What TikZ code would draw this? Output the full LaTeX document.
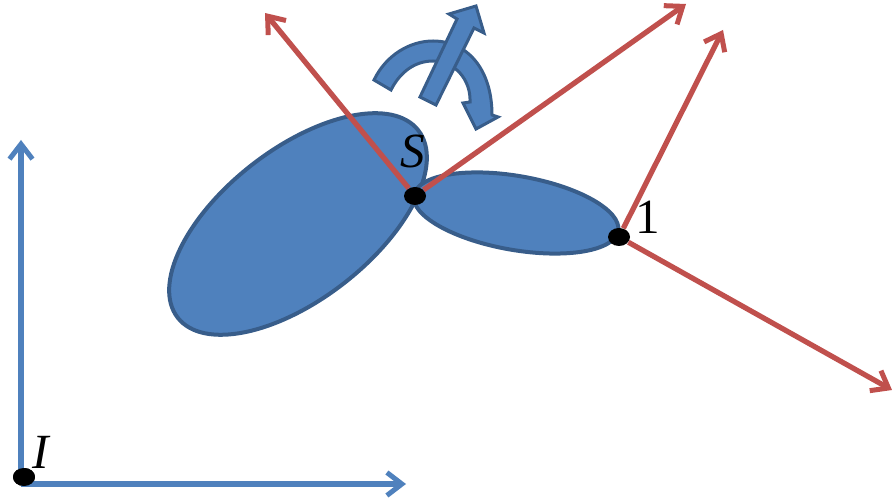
\documentclass[tikz,border=0pt]{standalone}
\usepackage{fontspec}
\setmainfont{Liberation Serif}
\usetikzlibrary{arrows.meta,shapes.geometric}
\definecolor{azul}{RGB}{79,129,189}
\definecolor{azulborde}{RGB}{56,93,138}
\definecolor{rojo}{RGB}{192,80,77}

\begin{document}
\begin{tikzpicture}[
  x=0.02cm, y=-0.02cm,
  cuerpo/.style={ellipse, draw=azulborde, fill=azul, line width=0.08cm, inner sep=0},
  punto/.style={ellipse, fill=black, minimum width=0.44cm, minimum height=0.36cm, inner sep=0},
  vec/.style={draw=rojo, line width=0.105cm, -{Straight Barb[length=0.3cm,width=0.46cm,line width=0.1cm]}},
  eje/.style={draw=azul, line width=0.105cm, -{Straight Barb[length=0.3cm,width=0.46cm,line width=0.1cm]}},
  flecha/.style={draw=azulborde, fill=azul, line width=0.06cm, line join=miter},
  etq/.style={font=\fontsize{28}{30}\selectfont, inner sep=0}
]
\useasboundingbox (0,0) rectangle (892,499);
% cuerpos
\node[cuerpo, minimum width=6.1cm, minimum height=3.0cm, rotate=37.9] (grande) at (298,224) {};
\node[cuerpo, minimum width=4.15cm, minimum height=1.48cm, rotate=-9.9] (chico) at (516,213) {};
% giro y eje
\draw[flecha] (374,80) .. controls (386,55) and (410,41) .. (433,41)
  .. controls (468,41) and (492,70) .. (492,115) -- (498,117) -- (476,129) -- (463,103) -- (470,102)
  .. controls (471,80) and (455,61) .. (433,61)
  .. controls (415,61) and (400,72) .. (391,90) -- cycle;
\draw[flecha] (420,97) -- (457,19) -- (449,14) -- (476,6) -- (484,33) -- (474,28) -- (436,105) -- cycle;
% puntos
\node[punto] (ptoS) at (415,196) {};
\node[punto] (pto1) at (619,237) {};
\node[punto] (ptoI) at (24,477) {};
\coordinate (finA) at (265,13);
\coordinate (finB) at (686,4);
\coordinate (finC) at (723,30);
\coordinate (finD) at (892,390);
\coordinate (esq) at (21,484);
\coordinate (finX) at (406,484);
\coordinate (finY) at (21,140);
% vectores
\draw[vec] (ptoS) -- (finA);
\draw[vec] (ptoS) -- (finB);
\draw[vec] (pto1) -- (finC);
\draw[vec] (pto1) -- (finD);
% ejes inerciales
\draw[eje] (esq) -- (finY);
\draw[eje] (esq) -- (finX);
\node[punto] at (ptoI) {};
\node[etq] (etqS) at (413,151) {\textit{S}};
\node[etq] (etq1) at (648,217) {1};
\node[etq] (etqI) at (42,452) {\textit{I}};
\end{tikzpicture}
\end{document}
